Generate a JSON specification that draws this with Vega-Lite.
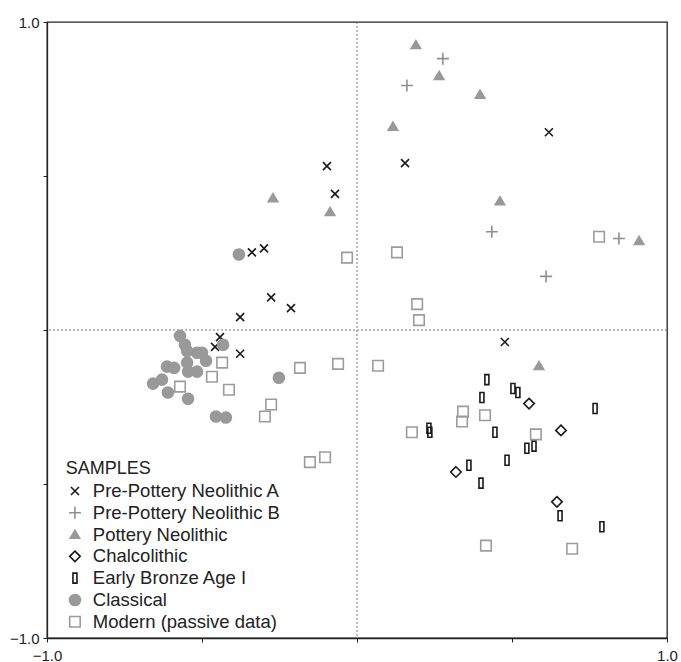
{
  "$schema": "https://vega.github.io/schema/vega-lite/v6.json",
  "autosize": "none",
  "width": 620,
  "height": 616,
  "padding": {"left": 47, "top": 22, "right": 14, "bottom": 24},
  "background": "white",
  "config": {
    "view": {"stroke": "#222", "strokeWidth": 1.3},
    "font": "Liberation Sans",
    "axis": {
      "grid": false, "title": null, "domainColor": "#222", "domainWidth": 1.3,
      "tickColor": "#222", "tickSize": 4, "labelFontSize": 15, "labelColor": "#222",
      "labelFont": "Liberation Sans", "labelFlush": false, "labelOverlap": false, "labelBound": false
    },
    "legend": {
      "titleFont": "Liberation Sans", "labelFont": "Liberation Sans",
      "titleFontSize": 18, "titleFontWeight": "normal", "titleColor": "#222",
      "labelFontSize": 18.5, "labelColor": "#222", "labelLimit": 0, "symbolSize": 100, "symbolStrokeWidth": 1.6,
      "rowPadding": 2.8, "labelOffset": 8.6, "titlePadding": 4
    }
  },
  "datasets": {
    "pts": [
      {"x": -0.339, "y": 0.252, "g": "Pre-Pottery Neolithic A"},
      {"x": -0.300, "y": 0.265, "g": "Pre-Pottery Neolithic A"},
      {"x": -0.277, "y": 0.106, "g": "Pre-Pottery Neolithic A"},
      {"x": -0.213, "y": 0.071, "g": "Pre-Pottery Neolithic A"},
      {"x": -0.377, "y": 0.042, "g": "Pre-Pottery Neolithic A"},
      {"x": -0.442, "y": -0.023, "g": "Pre-Pottery Neolithic A"},
      {"x": -0.458, "y": -0.055, "g": "Pre-Pottery Neolithic A"},
      {"x": -0.377, "y": -0.077, "g": "Pre-Pottery Neolithic A"},
      {"x": -0.097, "y": 0.532, "g": "Pre-Pottery Neolithic A"},
      {"x": -0.071, "y": 0.442, "g": "Pre-Pottery Neolithic A"},
      {"x": 0.155, "y": 0.542, "g": "Pre-Pottery Neolithic A"},
      {"x": 0.619, "y": 0.642, "g": "Pre-Pottery Neolithic A"},
      {"x": 0.477, "y": -0.039, "g": "Pre-Pottery Neolithic A"},
      {"x": 0.277, "y": 0.881, "g": "Pre-Pottery Neolithic B"},
      {"x": 0.161, "y": 0.794, "g": "Pre-Pottery Neolithic B"},
      {"x": 0.435, "y": 0.319, "g": "Pre-Pottery Neolithic B"},
      {"x": 0.845, "y": 0.297, "g": "Pre-Pottery Neolithic B"},
      {"x": 0.610, "y": 0.174, "g": "Pre-Pottery Neolithic B"},
      {"x": 0.190, "y": 0.926, "g": "Pottery Neolithic"},
      {"x": 0.265, "y": 0.826, "g": "Pottery Neolithic"},
      {"x": 0.397, "y": 0.765, "g": "Pottery Neolithic"},
      {"x": 0.116, "y": 0.661, "g": "Pottery Neolithic"},
      {"x": 0.461, "y": 0.419, "g": "Pottery Neolithic"},
      {"x": 0.910, "y": 0.290, "g": "Pottery Neolithic"},
      {"x": -0.271, "y": 0.429, "g": "Pottery Neolithic"},
      {"x": -0.087, "y": 0.384, "g": "Pottery Neolithic"},
      {"x": 0.587, "y": -0.116, "g": "Pottery Neolithic"},
      {"x": 0.555, "y": -0.239, "g": "Chalcolithic"},
      {"x": 0.658, "y": -0.326, "g": "Chalcolithic"},
      {"x": 0.319, "y": -0.461, "g": "Chalcolithic"},
      {"x": 0.645, "y": -0.558, "g": "Chalcolithic"},
      {"x": 0.419, "y": -0.161, "g": "Early Bronze Age I"},
      {"x": 0.403, "y": -0.219, "g": "Early Bronze Age I"},
      {"x": 0.503, "y": -0.190, "g": "Early Bronze Age I"},
      {"x": 0.519, "y": -0.203, "g": "Early Bronze Age I"},
      {"x": 0.768, "y": -0.255, "g": "Early Bronze Age I"},
      {"x": 0.232, "y": -0.319, "g": "Early Bronze Age I"},
      {"x": 0.235, "y": -0.332, "g": "Early Bronze Age I"},
      {"x": 0.445, "y": -0.332, "g": "Early Bronze Age I"},
      {"x": 0.548, "y": -0.384, "g": "Early Bronze Age I"},
      {"x": 0.571, "y": -0.377, "g": "Early Bronze Age I"},
      {"x": 0.361, "y": -0.439, "g": "Early Bronze Age I"},
      {"x": 0.484, "y": -0.423, "g": "Early Bronze Age I"},
      {"x": 0.400, "y": -0.497, "g": "Early Bronze Age I"},
      {"x": 0.655, "y": -0.603, "g": "Early Bronze Age I"},
      {"x": 0.790, "y": -0.639, "g": "Early Bronze Age I"},
      {"x": -0.571, "y": -0.019, "g": "Classical"},
      {"x": -0.555, "y": -0.048, "g": "Classical"},
      {"x": -0.548, "y": -0.068, "g": "Classical"},
      {"x": -0.516, "y": -0.074, "g": "Classical"},
      {"x": -0.500, "y": -0.074, "g": "Classical"},
      {"x": -0.487, "y": -0.100, "g": "Classical"},
      {"x": -0.432, "y": -0.048, "g": "Classical"},
      {"x": -0.613, "y": -0.119, "g": "Classical"},
      {"x": -0.590, "y": -0.123, "g": "Classical"},
      {"x": -0.548, "y": -0.106, "g": "Classical"},
      {"x": -0.545, "y": -0.135, "g": "Classical"},
      {"x": -0.516, "y": -0.135, "g": "Classical"},
      {"x": -0.629, "y": -0.161, "g": "Classical"},
      {"x": -0.658, "y": -0.174, "g": "Classical"},
      {"x": -0.610, "y": -0.203, "g": "Classical"},
      {"x": -0.545, "y": -0.223, "g": "Classical"},
      {"x": -0.455, "y": -0.281, "g": "Classical"},
      {"x": -0.423, "y": -0.284, "g": "Classical"},
      {"x": -0.381, "y": 0.245, "g": "Classical"},
      {"x": -0.252, "y": -0.155, "g": "Classical"},
      {"x": -0.032, "y": 0.235, "g": "Modern (passive data)"},
      {"x": -0.435, "y": -0.106, "g": "Modern (passive data)"},
      {"x": -0.468, "y": -0.152, "g": "Modern (passive data)"},
      {"x": -0.571, "y": -0.184, "g": "Modern (passive data)"},
      {"x": -0.413, "y": -0.194, "g": "Modern (passive data)"},
      {"x": -0.184, "y": -0.123, "g": "Modern (passive data)"},
      {"x": -0.061, "y": -0.110, "g": "Modern (passive data)"},
      {"x": -0.277, "y": -0.242, "g": "Modern (passive data)"},
      {"x": -0.297, "y": -0.281, "g": "Modern (passive data)"},
      {"x": 0.068, "y": -0.116, "g": "Modern (passive data)"},
      {"x": -0.152, "y": -0.429, "g": "Modern (passive data)"},
      {"x": -0.103, "y": -0.413, "g": "Modern (passive data)"},
      {"x": 0.129, "y": 0.252, "g": "Modern (passive data)"},
      {"x": 0.781, "y": 0.303, "g": "Modern (passive data)"},
      {"x": 0.194, "y": 0.084, "g": "Modern (passive data)"},
      {"x": 0.200, "y": 0.032, "g": "Modern (passive data)"},
      {"x": 0.177, "y": -0.332, "g": "Modern (passive data)"},
      {"x": 0.342, "y": -0.265, "g": "Modern (passive data)"},
      {"x": 0.339, "y": -0.297, "g": "Modern (passive data)"},
      {"x": 0.413, "y": -0.277, "g": "Modern (passive data)"},
      {"x": 0.577, "y": -0.339, "g": "Modern (passive data)"},
      {"x": 0.416, "y": -0.700, "g": "Modern (passive data)"},
      {"x": 0.694, "y": -0.710, "g": "Modern (passive data)"}
    ],
    "zero": [{"v": 0}]
  },
  "encoding": {
    "x": {"type": "quantitative", "scale": {"domain": [-1, 1], "nice": false, "zero": false},
      "axis": {"values": [-1, -0.5, 0, 0.5, 1], "labelPadding": 6,
        "labelExpr": "datum.value == -1 || datum.value == 1 ? format(datum.value, '.1f') : ''"}},
    "y": {"type": "quantitative", "scale": {"domain": [-1, 1], "nice": false, "zero": false},
      "axis": {"values": [-1, -0.5, 0, 0.5, 1], "labelPadding": 4,
        "labelExpr": "datum.value == -1 || datum.value == 1 ? format(datum.value, '.1f') : ''"}}
  },
  "layer": [
    {
      "data": {"name": "zero"},
      "mark": {"type": "rule", "color": "#777", "strokeDash": [2, 2], "strokeWidth": 1},
      "encoding": {"x": {"field": "v", "type": "quantitative"}}
    },
    {
      "data": {"name": "zero"},
      "mark": {"type": "rule", "color": "#777", "strokeDash": [2, 2], "strokeWidth": 1},
      "encoding": {"y": {"field": "v", "type": "quantitative"}}
    },
    {
      "data": {"name": "pts"},
      "mark": {"type": "point", "size": 100, "strokeWidth": 1.6, "opacity": 1},
      "encoding": {
        "x": {"field": "x"},
        "y": {"field": "y"},
        "shape": {"field": "g", "type": "nominal", "title": "SAMPLES",
          "scale": {
            "domain": ["Pre-Pottery Neolithic A", "Pre-Pottery Neolithic B", "Pottery Neolithic", "Chalcolithic", "Early Bronze Age I", "Classical", "Modern (passive data)"],
            "range": [
              "M-0.8,-0.8L0.8,0.8M-0.8,0.8L0.8,-0.8",
              "M-1.2,0L1.2,0M0,-1.2L0,1.2",
              "M0,-0.85L0.95,0.75L-0.95,0.75Z",
              "M0,-1.05L1.05,0L0,1.05L-1.05,0Z",
              "M-0.4,-1L0.4,-1L0.4,1L-0.4,1Z",
              "M1.1,0A1.1,1.1,0,1,1,-1.1,0A1.1,1.1,0,1,1,1.1,0Z",
              "M-1.05,-1.05L1.05,-1.05L1.05,1.05L-1.05,1.05Z"
            ]},
          "legend": {"orient": "none", "legendX": 18.7, "legendY": 437.7}},
        "stroke": {"field": "g", "type": "nominal", "title": "SAMPLES",
          "scale": {
            "domain": ["Pre-Pottery Neolithic A", "Pre-Pottery Neolithic B", "Pottery Neolithic", "Chalcolithic", "Early Bronze Age I", "Classical", "Modern (passive data)"],
            "range": ["#1a1a1a", "#8f8f8f", "#999999", "#1a1a1a", "#1a1a1a", "#999999", "#9c9c9c"]},
          "legend": {"orient": "none", "legendX": 18.7, "legendY": 437.7}},
        "fill": {"field": "g", "type": "nominal", "title": "SAMPLES",
          "scale": {
            "domain": ["Pre-Pottery Neolithic A", "Pre-Pottery Neolithic B", "Pottery Neolithic", "Chalcolithic", "Early Bronze Age I", "Classical", "Modern (passive data)"],
            "range": ["transparent", "transparent", "#999999", "transparent", "transparent", "#999999", "transparent"]},
          "legend": {"orient": "none", "legendX": 18.7, "legendY": 437.7}}
      }
    }
  ]
}
